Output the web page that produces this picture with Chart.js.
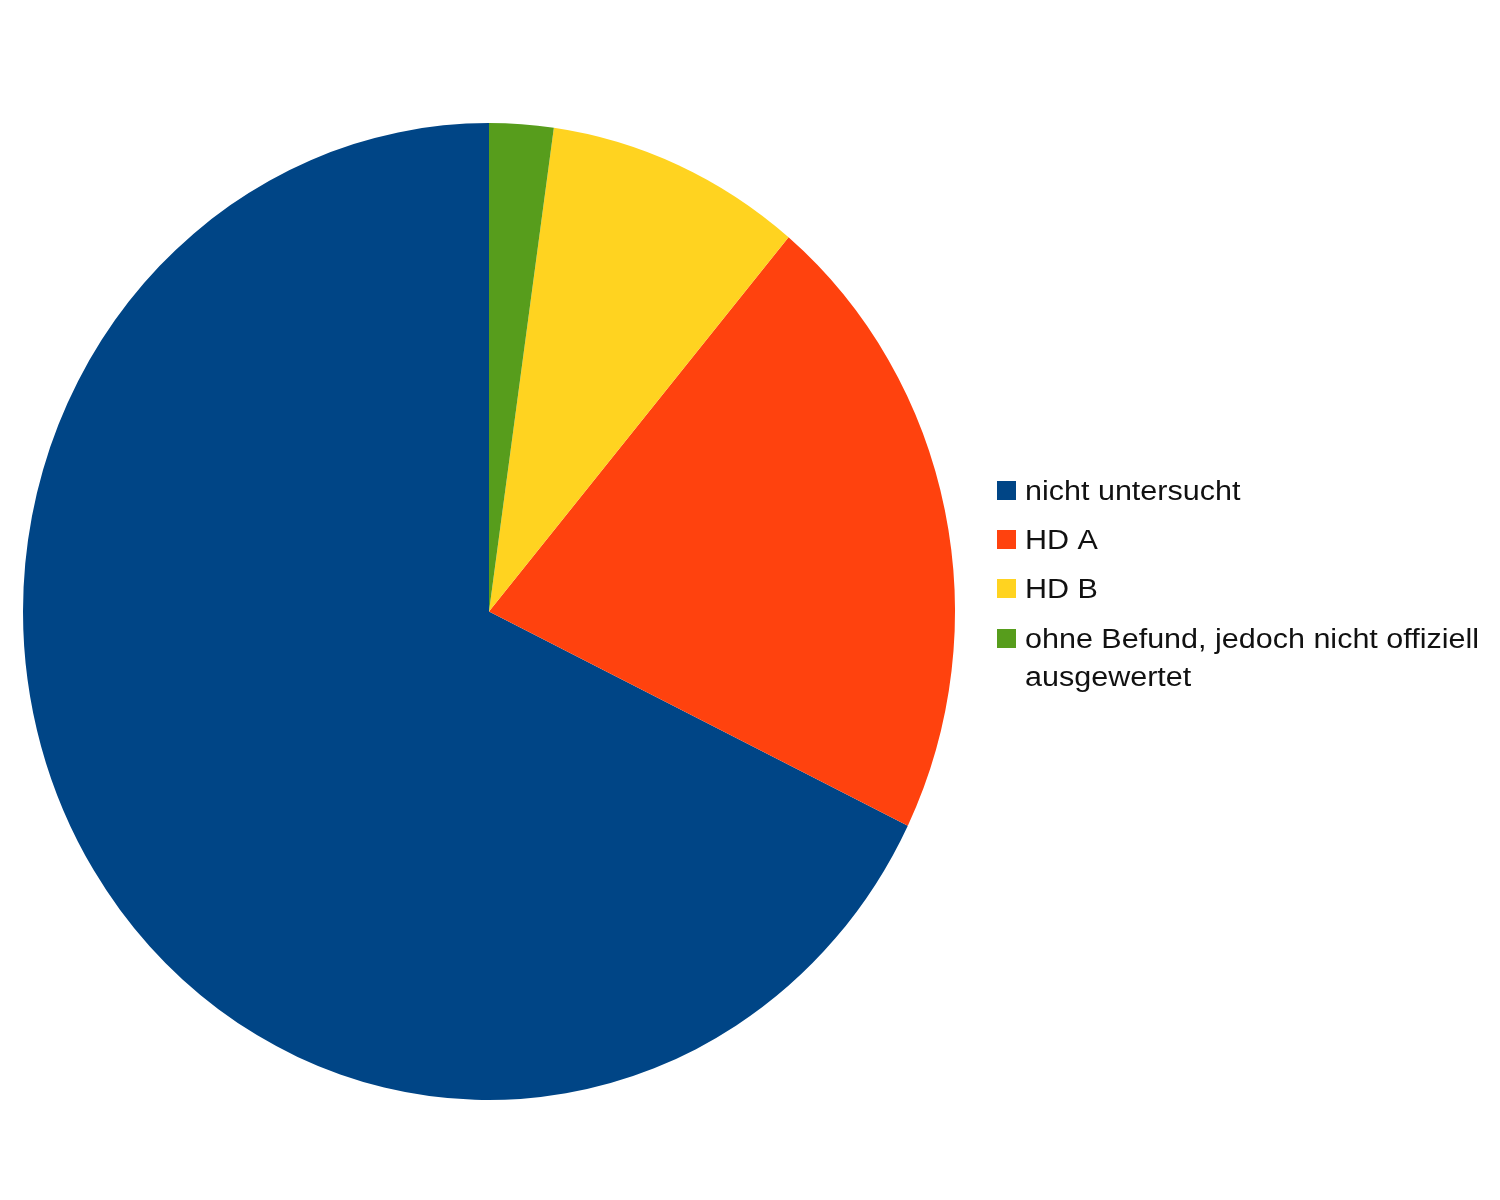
<!DOCTYPE html>
<html>
<head>
<meta charset="utf-8">
<title>HD-Befunde</title>
<script src="https://cdn.jsdelivr.net/npm/chart.js@4/dist/chart.umd.min.js"></script>
<style>
  html, body { margin: 0; padding: 0; background: #ffffff; }
  #wrap { width: 1500px; height: 1200px; position: relative; }
</style>
</head>
<body>
<div id="wrap"><canvas id="pie" width="1500" height="1200"></canvas></div>
<script>
// Categories (legend order) and counts per category
const categories = [
  'nicht untersucht',
  'HD A',
  'HD B',
  'ohne Befund, jedoch nicht offiziell ausgewertet'
];
const counts = [61, 19, 8, 2];
const sliceColors = ['#004586', '#ff420e', '#ffd320', '#579d1c'];
// Wrapped lines for the legend text
const legendLines = [
  ['nicht untersucht'],
  ['HD A'],
  ['HD B'],
  ['ohne Befund, jedoch nicht offiziell', 'ausgewertet']
];

// The pie runs counter-clockwise from 12 o'clock and is slightly
// narrower than tall: mirror and squeeze it horizontally about its centre.
const ellipsePie = {
  id: 'ellipsePie',
  beforeDatasetsDraw(chart) {
    const arc = chart.getDatasetMeta(0).data[0];
    const ctx = chart.ctx;
    ctx.save();
    ctx.translate(arc.x, arc.y);
    ctx.scale(-466 / 488.5, 1);
    ctx.translate(-arc.x, -arc.y);
  },
  afterDatasetsDraw(chart) {
    chart.ctx.restore();
  }
};

// Legend on the right: coloured square + (possibly wrapped) label
const sideLegend = {
  id: 'sideLegend',
  afterDraw(chart) {
    const ctx = chart.ctx;
    const ds = chart.data.datasets[0];
    const boxX = 997, box = 19, textX = 1025;
    const rowTops = [481, 530, 579, 629];
    const lineGap = 38.5;
    ctx.save();
    ctx.font = '27px "Liberation Sans", Arial, sans-serif';
    ctx.textBaseline = 'alphabetic';
    ctx.textAlign = 'left';
    chart.data.labels.forEach((label, i) => {
      const top = rowTops[i];
      ctx.fillStyle = ds.backgroundColor[i];
      ctx.fillRect(boxX, top, box, box);
      ctx.fillStyle = '#111111';
      legendLines[i].forEach((line, j) => {
        const base = top + box - 0.5 + j * lineGap;
        ctx.save();
        ctx.translate(textX, base);
        ctx.scale(1.13, 1);
        ctx.fillText(line, 0, 0);
        ctx.restore();
      });
    });
    ctx.restore();
  }
};

new Chart(document.getElementById('pie'), {
  type: 'pie',
  data: {
    labels: categories,
    datasets: [{
      data: counts,
      backgroundColor: sliceColors,
      borderWidth: 0,
      hoverOffset: 0
    }]
  },
  options: {
    responsive: false,
    animation: false,
    rotation: 0,
    layout: { padding: { left: 0, top: 123, right: 522, bottom: 100 } },
    plugins: {
      legend: { display: false },
      tooltip: { enabled: false },
      title: { display: false }
    }
  },
  plugins: [ellipsePie, sideLegend]
});
</script>
</body>
</html>
